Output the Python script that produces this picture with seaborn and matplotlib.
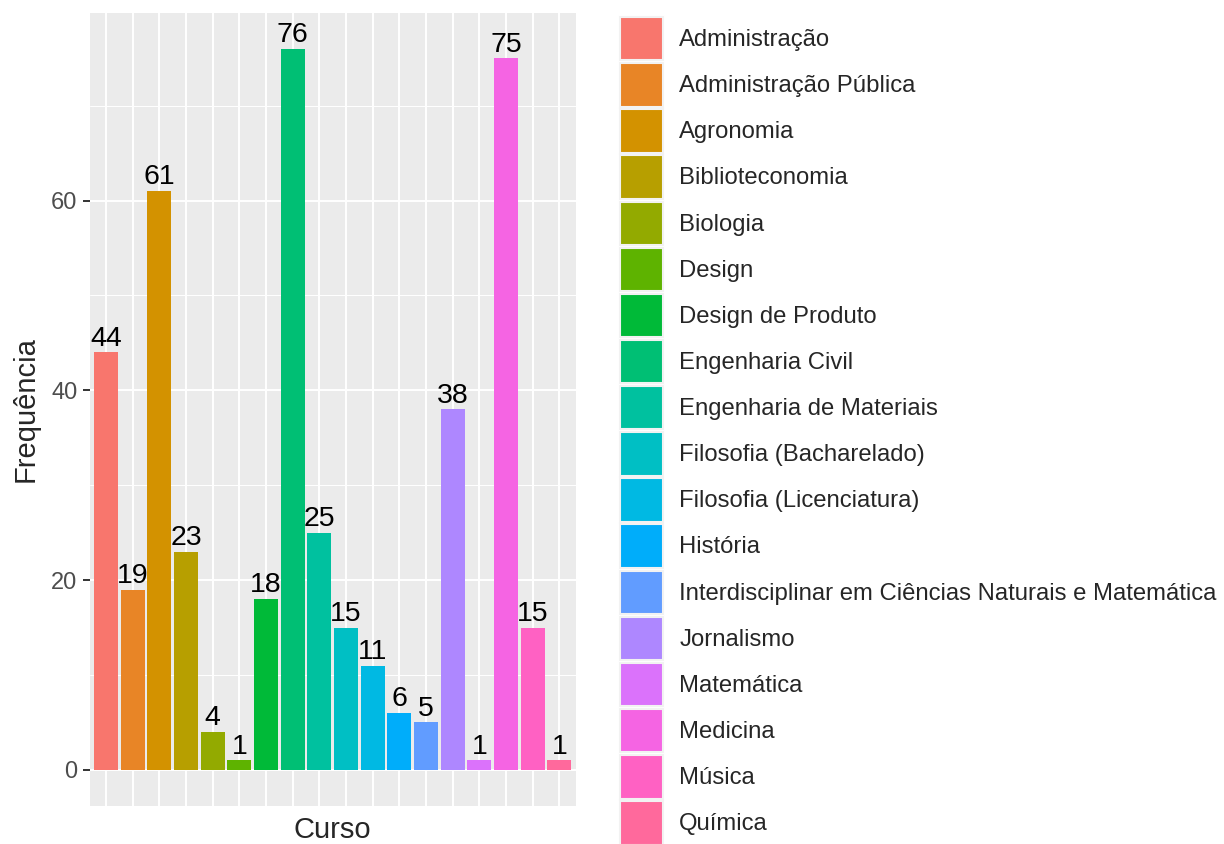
import numpy as np
import pandas as pd
import seaborn as sns
import matplotlib.pyplot as plt
from matplotlib.patches import Patch
from matplotlib.ticker import MultipleLocator

# Data
cursos = ['Administração', 'Administração Pública', 'Agronomia', 'Biblioteconomia',
          'Biologia', 'Design', 'Design de Produto', 'Engenharia Civil',
          'Engenharia de Materiais', 'Filosofia (Bacharelado)', 'Filosofia (Licenciatura)',
          'História', 'Interdisciplinar em Ciências Naturais e Matemática', 'Jornalismo',
          'Matemática', 'Medicina', 'Música', 'Química']
frequencia = [44, 19, 61, 23, 4, 1, 18, 76, 25, 15, 11, 6, 5, 38, 1, 75, 15, 1]

df = pd.DataFrame({'Curso': cursos, 'Frequencia': frequencia})


# ggplot-like hue palette (polar Luv, l=65, c=100)
def hue_pal(n, l=65, c=100, h0=15):
    hues = np.deg2rad(h0 + 360 * np.arange(n) / n)
    u, v = c * np.cos(hues), c * np.sin(hues)
    xn, yn, zn = 95.047, 100.0, 108.883
    un = 4 * xn / (xn + 15 * yn + 3 * zn)
    vn = 9 * yn / (xn + 15 * yn + 3 * zn)
    Y = np.full(n, yn * ((l + 16) / 116) ** 3)
    up = u / (13 * l) + un
    vp = v / (13 * l) + vn
    X = 9 * Y * up / (4 * vp)
    Z = -X / 3 - 5 * Y + 3 * Y / vp
    xyz = np.vstack([X, Y, Z]) / 100
    m = np.array([[3.2404542, -1.5371385, -0.4985314],
                  [-0.9692660, 1.8760108, 0.0415560],
                  [0.0556434, -0.2040259, 1.0572252]])
    rgb = m @ xyz
    rgb = np.where(rgb > 0.0031308, 1.055 * np.clip(rgb, 0, None) ** (1 / 2.4) - 0.055, 12.92 * rgb)
    return [tuple(col) for col in np.clip(rgb, 0, 1).T]


cores = hue_pal(len(cursos))

sns.set_style('darkgrid', {'axes.facecolor': '#EBEBEB', 'grid.color': 'white'})
plt.rcParams['font.family'] = ['Liberation Sans', 'DejaVu Sans']

fig = plt.figure(figsize=(12.24, 8.44), dpi=100)
ax = fig.add_axes([90 / 1224, 1 - 806 / 844, 485.5 / 1224, (806 - 12.7) / 844])

sns.barplot(data=df, x='Curso', y='Frequencia', hue='Curso', palette=cores,
            dodge=False, width=0.9, saturation=1, legend=False,
            edgecolor='none', linewidth=0, ax=ax)

for cont in ax.containers:
    ax.bar_label(cont, padding=0.5, fontsize=20.5, color='black')

ax.set_xlim(-0.6, len(cursos) - 0.4)
ax.set_ylim(-76 * 0.05, 76 * 1.05)
ax.yaxis.set_major_locator(MultipleLocator(20))
ax.yaxis.set_minor_locator(MultipleLocator(10))
ax.grid(which='major', color='white', linewidth=1.4)
ax.grid(which='minor', axis='y', color='white', linewidth=0.7)
ax.set_axisbelow(True)
for s in ax.spines.values():
    s.set_visible(False)

ax.set_xticks(range(len(cursos)))
ax.set_xticklabels([])
ax.tick_params(axis='x', length=0)
ax.tick_params(axis='y', which='major', length=5, width=1.4, color='#333333',
               labelsize=17, labelcolor='#4D4D4D', pad=4, left=True)
ax.tick_params(axis='y', which='minor', length=0)

ax.set_xlabel('Curso', fontsize=21, labelpad=4)
ax.set_ylabel('Frequência', fontsize=21, labelpad=8)

# legend keys are tall (about 46 px a row), run off the bottom like the original
handles = [Patch(facecolor=c, edgecolor='#F2F2F2', linewidth=1.5) for c in cores]
fig.legend(handles, cursos, loc='upper left', bbox_to_anchor=(620 / 1224, 1 - 17 / 844),
           frameon=False, fontsize=17.2, handlelength=1.8, handleheight=2.42,
           labelspacing=0.113, handletextpad=0.68, borderpad=0, borderaxespad=0)

fig.savefig('out.png', dpi=100)
